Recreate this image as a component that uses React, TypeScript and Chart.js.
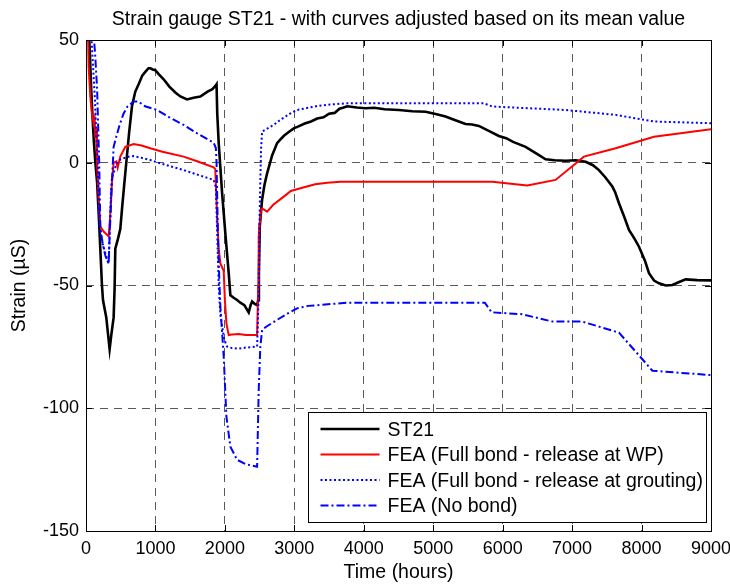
import React, { useEffect, useRef } from "react";
import { Chart, registerables } from "chart.js";

Chart.register(...registerables);

const chartTitle = "Strain gauge ST21 - with curves adjusted based on its mean value";
const xTitle = "Time (hours)";
const yTitle = "Strain (\u00b5S)";
const seriesLabels = [
  "ST21",
  "FEA (Full bond - release at WP)",
  "FEA (Full bond - release at grouting)",
  "FEA (No bond)",
];

// ST21 measured
const st21Time = [30, 55, 75, 95, 115, 135, 160, 185, 206, 230, 245, 292, 340, 365, 398, 412, 422, 460, 494, 518, 550, 580, 620, 662, 710, 758, 810, 854, 900, 926, 960, 998, 1050, 1118, 1200, 1290, 1359, 1455, 1550, 1647, 1750, 1820, 1863, 1880, 1890, 1911, 1959, 2007, 2055, 2079, 2127, 2180, 2223, 2280, 2343, 2370, 2392, 2430, 2464, 2480, 2490, 2502, 2536, 2570, 2608, 2680, 2752, 2800, 2850, 2920, 2991, 3060, 3150, 3240, 3329, 3420, 3500, 3580, 3650, 3700, 3761, 3900, 4025, 4150, 4300, 4505, 4700, 4890, 5050, 5177, 5300, 5465, 5560, 5657, 5800, 5945, 6050, 6150, 6330, 6500, 6618, 6750, 6906, 7050, 7195, 7300, 7386, 7480, 7579, 7620, 7675, 7750, 7819, 7900, 7963, 8050, 8107, 8180, 8251, 8350, 8444, 8550, 8636, 8800, 9000];
const st21Strain = [60, 45, 30, 18, 8, 0, -8, -22, -35, -50, -56, -63, -76, -70, -63, -51, -35, -31, -27, -19, -9, 0, 12, 23, 29, 32, 35.5, 37, 38.5, 38.5, 38, 37.7, 36, 34, 31, 28.5, 27, 25.8, 26.5, 27, 29, 30, 31.3, 32, 20, 8, -12, -29, -45, -54, -55, -56, -57, -58, -61, -58, -56.5, -57.5, -58, -56, -45, -26, -15, -9, -4.3, 3, 8, 9.5, 11, 12.5, 14, 14.8, 16, 16.8, 18, 18.5, 20, 20.3, 22, 22.4, 23, 22.5, 22.2, 22.4, 21.8, 21.5, 21, 20.8, 19.8, 18.8, 17.5, 15.8, 15.6, 15, 13, 10.9, 10, 8.5, 6.5, 3.5, 1.4, 1, 0.8, 1, 0.4, -1, -3, -6, -9.7, -12, -16.5, -22, -27.4, -31, -34.2, -40, -45, -48, -49.1, -50, -49.8, -48.5, -47.5, -47.8, -47.9];

// FEA full bond - release at WP
const wpTime = [27, 38, 62, 85, 110, 125, 134, 145, 158, 182, 206, 254, 326, 350, 374, 398, 437, 456, 494, 566, 686, 800, 926, 1100, 1406, 1600, 1838, 1862, 1887, 1911, 1935, 1983, 2000, 2022, 2055, 2100, 2200, 2300, 2464, 2480, 2487, 2520, 2536, 2608, 2700, 2848, 2950, 3088, 3300, 3473, 3665, 5850, 6354, 6762, 7170, 7627, 8179, 9000];
const wpStrain = [55, 39, 27, 20, 16, 18, 10, 14, 0, -14, -26, -28, -30, -21, -8, 0, 0.5, -2, 2.5, 6.5, 7.6, 7, 5.9, 4.5, 2.5, 0.6, -1.9, -2.6, -21, -35, -41, -44, -56, -65.4, -70.2, -70, -69.8, -70.2, -70.2, -50, -30, -19, -18.6, -19.9, -17, -13.8, -11.5, -10.4, -8.8, -8.1, -7.7, -7.7, -9.3, -7, 2.5, 5.9, 10.6, 13.6];

// FEA full bond - release at grouting
const groutTime = [70, 100, 130, 150, 170, 185, 206, 240, 280, 310, 326, 340, 360, 374, 400, 420, 450, 500, 560, 620, 686, 800, 926, 1100, 1406, 1600, 1838, 1870, 1887, 1911, 1935, 1990, 2032, 2100, 2200, 2300, 2464, 2490, 2501, 2520, 2536, 2600, 2703, 2800, 2944, 3040, 3329, 3550, 3761, 5729, 5850, 6906, 7627, 8179, 9000];
const groutStrain = [55, 40, 25, 10, 0, -18, -28, -33, -37, -40, -41, -30, -12, -6, -4, -2, 0, 1.5, 2, 2.5, 2.7, 2, 1.1, -0.5, -3, -4.8, -7, -10, -26, -50, -62, -72, -74.9, -75.5, -75.7, -75.3, -74.9, -50, -20, 5, 12.7, 13.8, 15.4, 17.5, 20.1, 21.5, 23.1, 23.8, 24.2, 24.2, 22.9, 21.5, 19.5, 16.8, 16.1];

// FEA no bond
const noBondTime = [100, 130, 160, 175, 190, 206, 240, 280, 326, 340, 370, 398, 430, 480, 540, 600, 686, 750, 850, 1023, 1200, 1406, 1600, 1838, 1870, 1880, 1900, 1920, 1935, 1983, 2022, 2079, 2176, 2300, 2464, 2487, 2510, 2536, 2584, 2752, 2900, 3040, 3200, 3376, 3761, 5743, 5840, 6282, 6715, 7147, 7675, 8156, 9000];
const noBondStrain = [55, 45, 30, 15, 0, -26, -33, -38, -41, -30, -10, 6.5, 10, 15, 20, 23, 24.9, 25, 23, 21.5, 18.5, 15.4, 12, 8.2, 6, 0, -30, -48, -58.6, -79, -103.4, -115.7, -121, -122.8, -123.8, -92.6, -75, -68.1, -67, -64, -61.5, -59.3, -58.3, -57.9, -57, -57, -60.9, -61.7, -64.7, -64.7, -69.2, -84.7, -86.5];

const xMin = 0;
const xMax = 9000;
const xStep = 1000;
const yMin = -150;
const yMax = 50;
const yStep = 50;

const FONT = "'Liberation Sans', Arial, Helvetica, sans-serif";
const TEXT_SIZE = 19.5;

const pts = (xs: number[], ys: number[]) => xs.map((x, i) => ({ x, y: ys[i] }));

const framePlugin = {
  id: "matlabFrame",
  afterDraw(chart: any) {
    const { ctx, chartArea: a, scales } = chart;
    ctx.save();
    ctx.setLineDash([]);
    ctx.strokeStyle = "#000";
    ctx.lineWidth = 1;
    const tl = 6;
    ctx.beginPath();
    scales.x.ticks.forEach((t: any) => {
      const px = Math.round(scales.x.getPixelForValue(t.value)) + 0.5;
      ctx.moveTo(px, a.bottom);
      ctx.lineTo(px, a.bottom - tl);
      ctx.moveTo(px, a.top);
      ctx.lineTo(px, a.top + tl);
    });
    scales.y.ticks.forEach((t: any) => {
      const py = Math.round(scales.y.getPixelForValue(t.value)) + 0.5;
      ctx.moveTo(a.left, py);
      ctx.lineTo(a.left + tl, py);
      ctx.moveTo(a.right, py);
      ctx.lineTo(a.right - tl, py);
    });
    ctx.stroke();
    ctx.strokeRect(Math.round(a.left) + 0.5, Math.round(a.top) + 0.5, Math.round(a.right - a.left), Math.round(a.bottom - a.top));

    // legend
    const bx = Math.round(a.left + (a.right - a.left) * 0.355) + 0.5;
    const bw = Math.round(a.right - 5) - bx + 0.5;
    const by = Math.round(a.bottom - 119) + 0.5;
    const bh = 110;
    ctx.fillStyle = "#fff";
    ctx.fillRect(bx, by, bw, bh);
    ctx.strokeStyle = "#000";
    ctx.lineWidth = 1;
    ctx.strokeRect(bx, by, bw, bh);
    ctx.font = `${TEXT_SIZE}px ${FONT}`;
    ctx.textBaseline = "middle";
    ctx.textAlign = "left";
    chart.data.datasets.forEach((ds: any, i: number) => {
      const ry = by + 16.5 + i * 25.5;
      ctx.strokeStyle = ds.borderColor;
      ctx.lineWidth = ds.borderWidth;
      ctx.setLineDash(ds.borderDash || []);
      ctx.beginPath();
      ctx.moveTo(bx + 12, ry);
      ctx.lineTo(bx + 71, ry);
      ctx.stroke();
      ctx.setLineDash([]);
      ctx.fillStyle = "#000";
      ctx.fillText(ds.label, bx + 79, ry + 1.5);
    });
    ctx.restore();
  },
};

export default function App() {
  const ref = useRef<HTMLCanvasElement | null>(null);
  useEffect(() => {
    if (!ref.current) return;
    const common = { pointRadius: 0, pointHoverRadius: 0, fill: false, tension: 0, clip: 0 };
    const chart = new Chart(ref.current, {
      type: "line",
      data: {
        datasets: [
          { ...common, label: seriesLabels[0], data: pts(st21Time, st21Strain), borderColor: "#000000", borderWidth: 2.6, order: 4 },
          { ...common, label: seriesLabels[1], data: pts(wpTime, wpStrain), borderColor: "#ff0000", borderWidth: 2, order: 3 },
          { ...common, label: seriesLabels[2], data: pts(groutTime, groutStrain), borderColor: "#0000ff", borderWidth: 2, borderDash: [2, 2.5], order: 2 },
          { ...common, label: seriesLabels[3], data: pts(noBondTime, noBondStrain), borderColor: "#0000ff", borderWidth: 2, borderDash: [8, 3, 2, 3], order: 1 },
        ] as any,
      },
      options: {
        animation: false,
        responsive: false,
        devicePixelRatio: 1,
        layout: { padding: { left: 0, right: 19, top: 0, bottom: 0 } },
        plugins: {
          legend: { display: false },
          tooltip: { enabled: false },
          title: {
            display: true,
            text: chartTitle,
            fullSize: false,
            color: "#000",
            font: { family: FONT, size: TEXT_SIZE, weight: "normal", lineHeight: 1.2 },
            padding: { top: 8, bottom: 8.6 },
          },
        },
        scales: {
          x: {
            type: "linear",
            min: xMin,
            max: xMax,
            ticks: { stepSize: xStep, color: "#000", font: { family: FONT, size: 18 }, padding: 7, maxRotation: 0, callback: (v: any) => String(v) },
            grid: { color: "#5a5a5a", lineWidth: 1, drawTicks: false },
            border: { display: false, dash: [8, 6] },
            title: { display: true, text: xTitle, color: "#000", font: { family: FONT, size: TEXT_SIZE, lineHeight: 1.2 }, padding: { top: 0, bottom: 0.5 } },
            afterFit: (s: any) => { s.height = 54; s.paddingLeft = 0; s.paddingRight = 0; },
          },
          y: {
            type: "linear",
            min: yMin,
            max: yMax,
            ticks: { stepSize: yStep, color: "#000", font: { family: FONT, size: 18 }, padding: 7, callback: (v: any) => String(v) },
            grid: { color: "#5a5a5a", lineWidth: 1, drawTicks: false },
            border: { display: false, dash: [8, 6] },
            title: { display: true, text: yTitle, color: "#000", font: { family: FONT, size: TEXT_SIZE, lineHeight: 1.2 }, padding: { top: 8, bottom: 0 } },
            afterFit: (s: any) => { s.width = 86; },
          },
        },
      },
      plugins: [framePlugin],
    } as any);
    return () => chart.destroy();
  }, []);
  return (
    <div style={{ position: "absolute", left: 0, top: 0, width: 730, height: 585, background: "#fff" }}>
      <canvas ref={ref} width={730} height={585} style={{ display: "block" }} />
    </div>
  );
}
